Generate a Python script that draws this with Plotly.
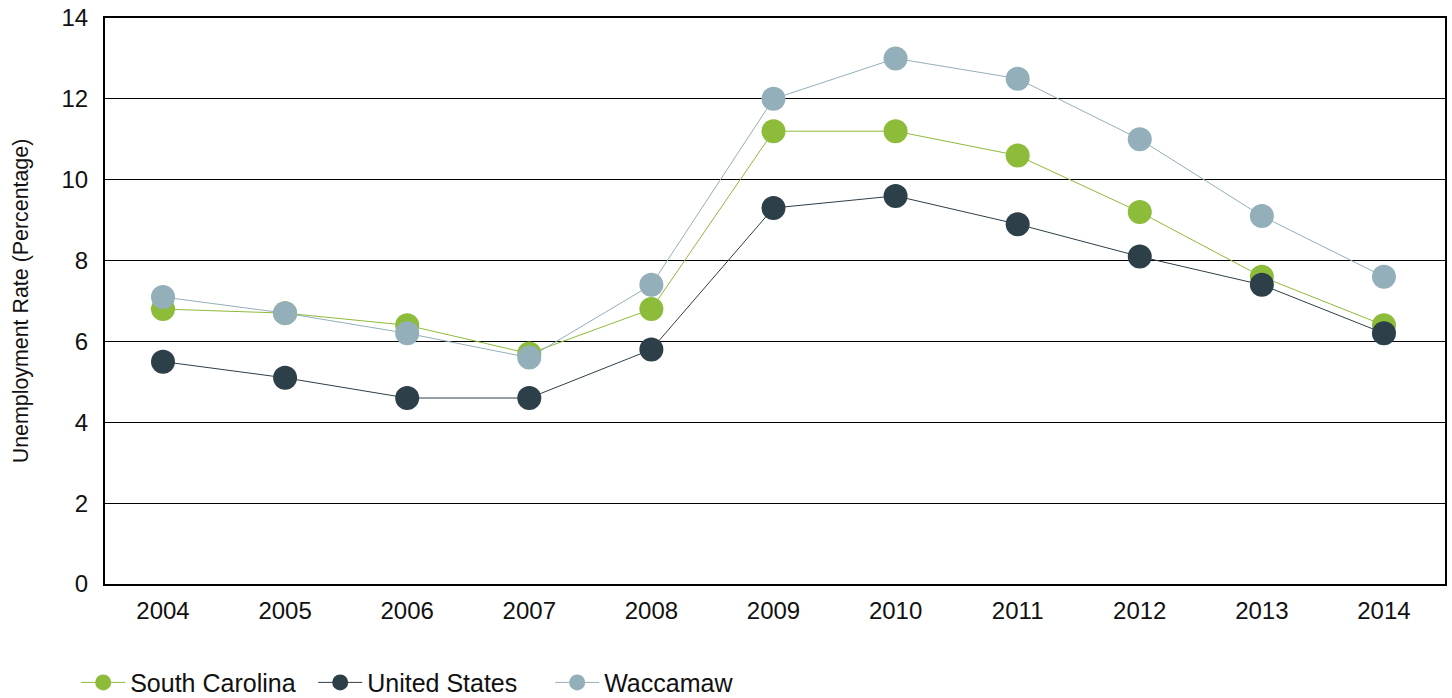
import plotly.graph_objects as go

years = ["2004", "2005", "2006", "2007", "2008", "2009", "2010", "2011", "2012", "2013", "2014"]
south_carolina = [6.8, 6.7, 6.4, 5.7, 6.8, 11.2, 11.2, 10.6, 9.2, 7.6, 6.4]
united_states = [5.5, 5.1, 4.6, 4.6, 5.8, 9.3, 9.6, 8.9, 8.1, 7.4, 6.2]
waccamaw = [7.1, 6.7, 6.2, 5.6, 7.4, 12.0, 13.0, 12.5, 11.0, 9.1, 7.6]

series = [
    ("South Carolina", south_carolina, "#8DBB3A"),
    ("United States", united_states, "#2D3F48"),
    ("Waccamaw", waccamaw, "#93AFB9"),
]

fig = go.Figure()
for name, vals, col in series:
    fig.add_trace(go.Scatter(
        x=years, y=vals, name=name, mode="lines+markers",
        line=dict(color=col, width=1),
        marker=dict(color=col, size=24, line=dict(width=0)),
    ))

fig.update_layout(
    width=1452, height=698,
    margin=dict(l=105, r=7, t=18, b=114, autoexpand=False),
    paper_bgcolor="white", plot_bgcolor="white",
    font=dict(family="Liberation Sans, Arial, sans-serif", size=24, color="#111111"),
    showlegend=True,
    legend=dict(orientation="h", x=-0.0215, xanchor="left",
                yref="container", y=0.022, yanchor="middle", font=dict(size=25),
                itemwidth=44, entrywidth=178, entrywidthmode="pixels",
                traceorder="normal"),
    xaxis=dict(type="category", range=[-0.475, 10.5], showgrid=False, showline=True,
               linecolor="black", linewidth=2, mirror=True, ticks="",
               tickfont=dict(size=24), ticklabelstandoff=4, automargin=False,
               ticklabeloverflow="allow"),
    yaxis=dict(range=[0, 14], dtick=2, showgrid=True, gridcolor="black",
               gridwidth=1, showline=True, linecolor="black", linewidth=2,
               mirror=True, zeroline=False, ticks="", tickfont=dict(size=24),
               ticklabelstandoff=10, automargin=False, ticklabeloverflow="allow",
               title=dict(text="Unemployment Rate (Percentage)", font=dict(size=21.4), standoff=27)),
)

fig.write_html(
    "out.html",
    config={"displayModeBar": False},
    post_script="document.body.style.margin='0';document.body.style.overflow='hidden';",
)
